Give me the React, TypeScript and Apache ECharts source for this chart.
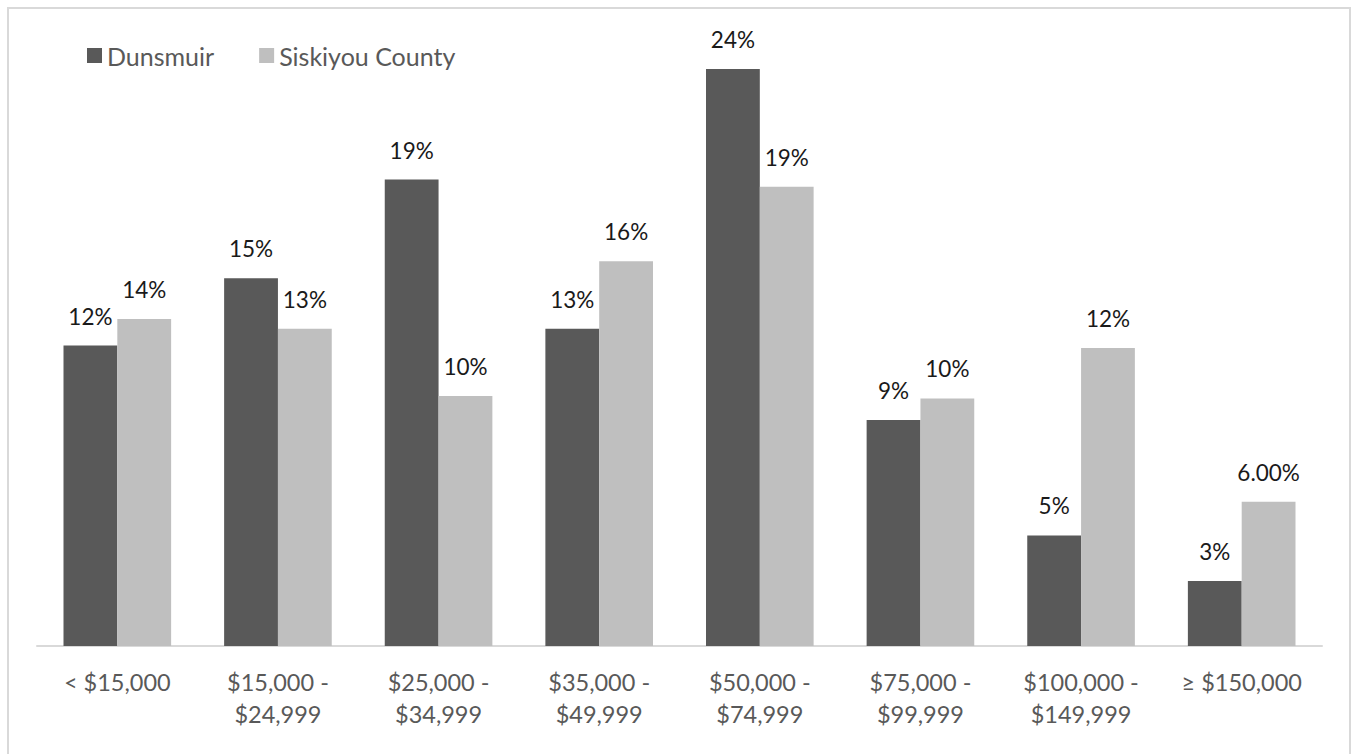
import React, { useEffect, useRef } from "react";
import * as echarts from "echarts";

const categories = [
  "< $15,000",
  "$15,000 -\n$24,999",
  "$25,000 -\n$34,999",
  "$35,000 -\n$49,999",
  "$50,000 -\n$74,999",
  "$75,000 -\n$99,999",
  "$100,000 -\n$149,999",
  "≥ $150,000",
];
const dunsmuir = [12.5, 15.3, 19.4, 13.2, 24.0, 9.4, 4.6, 2.7];
const siskiyou = [13.6, 13.2, 10.4, 16.0, 19.1, 10.3, 12.4, 6.0];
const dunsmuirLabels = ["12%", "15%", "19%", "13%", "24%", "9%", "5%", "3%"];
const siskiyouLabels = ["14%", "13%", "10%", "16%", "19%", "10%", "12%", "6.00%"];

const FONT = "Lato, 'Open Sans', sans-serif";

export default function App() {
  const ref = useRef<HTMLDivElement>(null);
  useEffect(() => {
    if (!ref.current) return;
    const chart = echarts.init(ref.current, undefined, { renderer: "svg" });
    const label = (labels: string[]) => ({
      show: true,
      position: "top",
      distance: 18,
      fontFamily: FONT,
      fontSize: 22.5,
      color: "#1a1a1a",
      formatter: (p: any) => labels[p.dataIndex],
    });
    chart.setOption({
      animation: false,
      backgroundColor: "#ffffff",
      textStyle: { fontFamily: FONT },
      graphic: [
        {
          type: "rect",
          shape: { x: 8, y: 8, width: 1342, height: 800 },
          style: { fill: "none", stroke: "#d9d9d9", lineWidth: 2 },
          silent: true,
        },
      ],
      legend: {
        left: 82,
        top: 38,
        itemWidth: 15,
        itemHeight: 15,
        itemGap: 45,
        icon: "rect",
        textStyle: { fontFamily: FONT, fontSize: 25, color: "#595959" },
        data: ["Dunsmuir", "Siskiyou County"],
      },
      grid: { left: 37, right: 32, top: 45, bottom: 108, containLabel: false },
      xAxis: {
        type: "category",
        data: categories,
        axisLine: { show: true, lineStyle: { color: "#d9d9d9", width: 2 } },
        axisTick: { show: false },
        axisLabel: {
          fontFamily: FONT,
          fontSize: 23.5,
          color: "#595959",
          lineHeight: 32,
          margin: 20,
          interval: 0,
        },
      },
      yAxis: {
        type: "value",
        min: 0,
        max: 25,
        show: false,
        splitLine: { show: false },
      },
      series: [
        {
          name: "Dunsmuir",
          type: "bar",
          data: dunsmuir,
          itemStyle: { color: "#595959" },
          barGap: "0%",
          barCategoryGap: "33%",
          label: label(dunsmuirLabels),
        },
        {
          name: "Siskiyou County",
          type: "bar",
          data: siskiyou,
          itemStyle: { color: "#bfbfbf" },
          barGap: "0%",
          barCategoryGap: "33%",
          label: label(siskiyouLabels),
        },
      ],
    });
    return () => chart.dispose();
  }, []);
  return (
    <div style={{ position: "fixed", left: 0, top: 0, width: 1354, height: 754, overflow: "hidden", background: "#fff" }}>
      <div ref={ref} style={{ width: 1354, height: 754 }} />
    </div>
  );
}
